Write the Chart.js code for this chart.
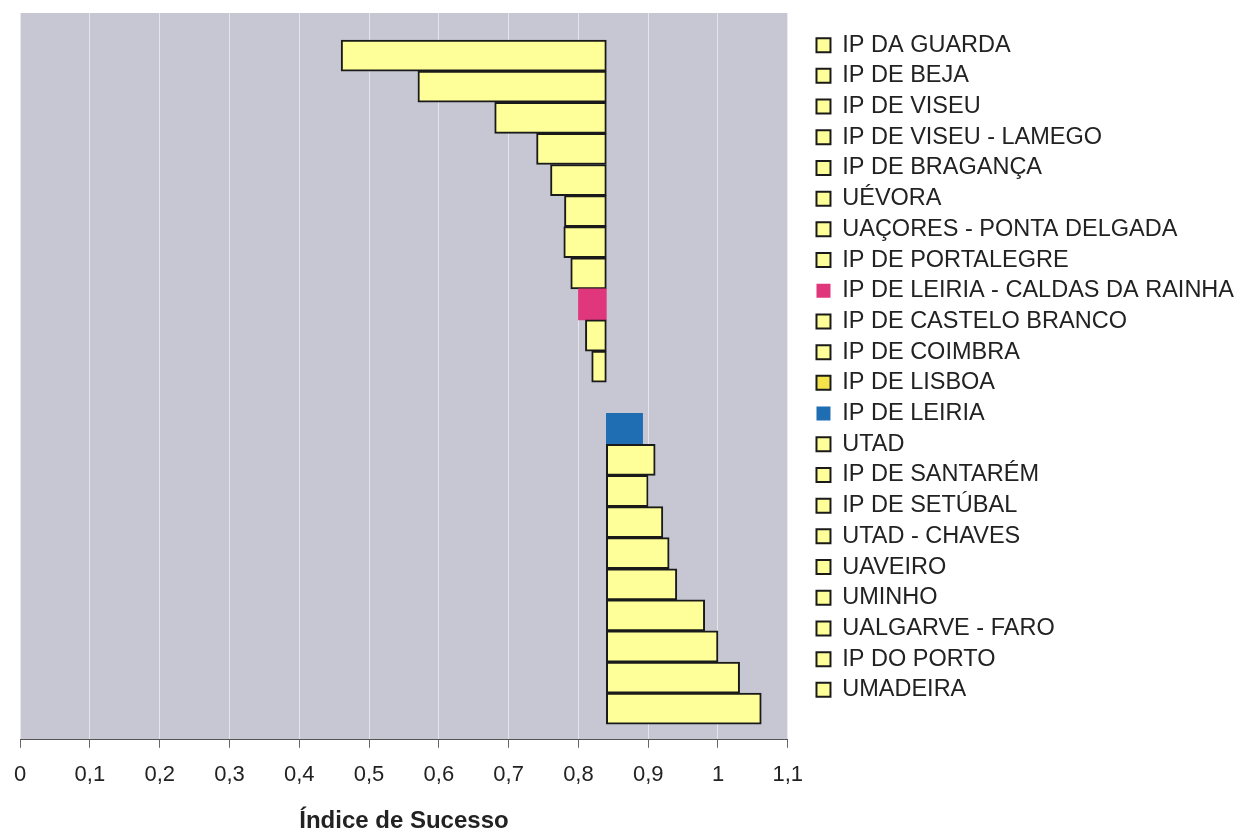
<!DOCTYPE html>
<html>
<head>
<meta charset="utf-8">
<script src="https://cdn.jsdelivr.net/npm/chart.js@4.4.1/dist/chart.umd.min.js"></script>
<style>
  html, body { margin:0; padding:0; background:#fff; }
  #wrap { width:1244px; height:836px; position:relative; }
</style>
</head>
<body>
<div id="wrap"><canvas id="chart"></canvas></div>
<script>
// Données
const LABELS = [
  'IP DA GUARDA', 'IP DE BEJA', 'IP DE VISEU', 'IP DE VISEU - LAMEGO', 'IP DE BRAGANÇA',
  'UÉVORA', 'UAÇORES - PONTA DELGADA', 'IP DE PORTALEGRE', 'IP DE LEIRIA - CALDAS DA RAINHA',
  'IP DE CASTELO BRANCO', 'IP DE COIMBRA', 'IP DE LISBOA', 'IP DE LEIRIA', 'UTAD',
  'IP DE SANTARÉM', 'IP DE SETÚBAL', 'UTAD - CHAVES', 'UAVEIRO', 'UMINHO',
  'UALGARVE - FARO', 'IP DO PORTO', 'UMADEIRA'
];
const VALUES = [
  0.46, 0.57, 0.68, 0.74, 0.76,
  0.78, 0.779, 0.789, 0.80,
  0.81, 0.819, 0.84, 0.892, 0.91,
  0.90, 0.921, 0.93, 0.941, 0.981,
  1.0, 1.031, 1.062
];
const BASE = 0.84;
const TICK_LABELS = ['0', '0,1', '0,2', '0,3', '0,4', '0,5', '0,6', '0,7', '0,8', '0,9', '1', '1,1'];
const AXIS_TITLE = 'Índice de Sucesso';

// Couleurs
const YELLOW = '#ffff99', PINK = '#e0367c', BLUE = '#1f6db3', LISBOA_Y = '#f4e44c';
const FILLS = LABELS.map(l => l === 'IP DE LEIRIA - CALDAS DA RAINHA' ? PINK : l === 'IP DE LEIRIA' ? BLUE : l === 'IP DE LISBOA' ? LISBOA_Y : YELLOW);
const plain = c => c === YELLOW || c === LISBOA_Y;

const FONT = "'Liberation Sans', Arial, sans-serif";
Chart.defaults.font.family = FONT;
Chart.defaults.color = '#222';

const plotBg = {
  id: 'plotBg',
  beforeDraw(chart) {
    const { ctx, chartArea: a } = chart;
    ctx.save();
    ctx.fillStyle = '#c6c7d2';
    ctx.fillRect(a.left, a.top, a.right - a.left, a.bottom - a.top);
    ctx.restore();
  }
};

new Chart(document.getElementById('chart'), {
  type: 'bar',
  data: {
    datasets: [{
      data: VALUES.map((v, i) => ({ x: v, y: i })),
      base: BASE,
      backgroundColor: FILLS,
      borderColor: FILLS.map(c => plain(c) ? '#1a1a1a' : c),
      borderWidth: FILLS.map(c => plain(c) ? 2 : 0),
      borderSkipped: false,
      barPercentage: 1,
      categoryPercentage: 1
    }]
  },
  options: {
    indexAxis: 'y',
    responsive: true,
    maintainAspectRatio: false,
    animation: false,
    layout: { padding: { top: 13, left: 17, right: 0, bottom: 0 } },
    plugins: {
      tooltip: { enabled: false },
      legend: {
        position: 'right',
        align: 'start',
        maxWidth: 480,
        title: { display: true, text: '', font: { size: 11 }, padding: 0 },
        labels: {
          font: { size: 23.5 },
          color: '#222',
          boxWidth: 14,
          boxHeight: 14,
          padding: 7.2,
          generateLabels: () => LABELS.map((l, i) => ({
            text: l,
            fillStyle: FILLS[i],
            strokeStyle: plain(FILLS[i]) ? '#1a1a1a' : FILLS[i],
            lineWidth: plain(FILLS[i]) ? 2 : 0,
            fontColor: '#222',
            hidden: false,
            index: i
          }))
        }
      }
    },
    scales: {
      x: {
        type: 'linear',
        min: 0, max: 1.1,
        ticks: { stepSize: 0.1, padding: 14, font: { size: 22 }, color: '#222',
                 callback: (v, i) => TICK_LABELS[i] },
        grid: { color: 'rgba(255,255,255,0.55)', tickColor: '#666', tickLength: 8 },
        border: { color: '#555', width: 1 },
        title: { display: true, text: AXIS_TITLE, font: { size: 24, weight: 'bold' }, color: '#222',
                 padding: { top: 5, bottom: 0 } }
      },
      y: {
        type: 'linear',
        position: 'right',
        reverse: true,
        offset: false,
        min: -1.37, max: 22,
        ticks: { display: false },
        grid: { display: false },
        border: { display: false },
        afterFit: s => { s.width = 21.5; }
      }
    }
  },
  plugins: [plotBg]
});
</script>
</body>
</html>
